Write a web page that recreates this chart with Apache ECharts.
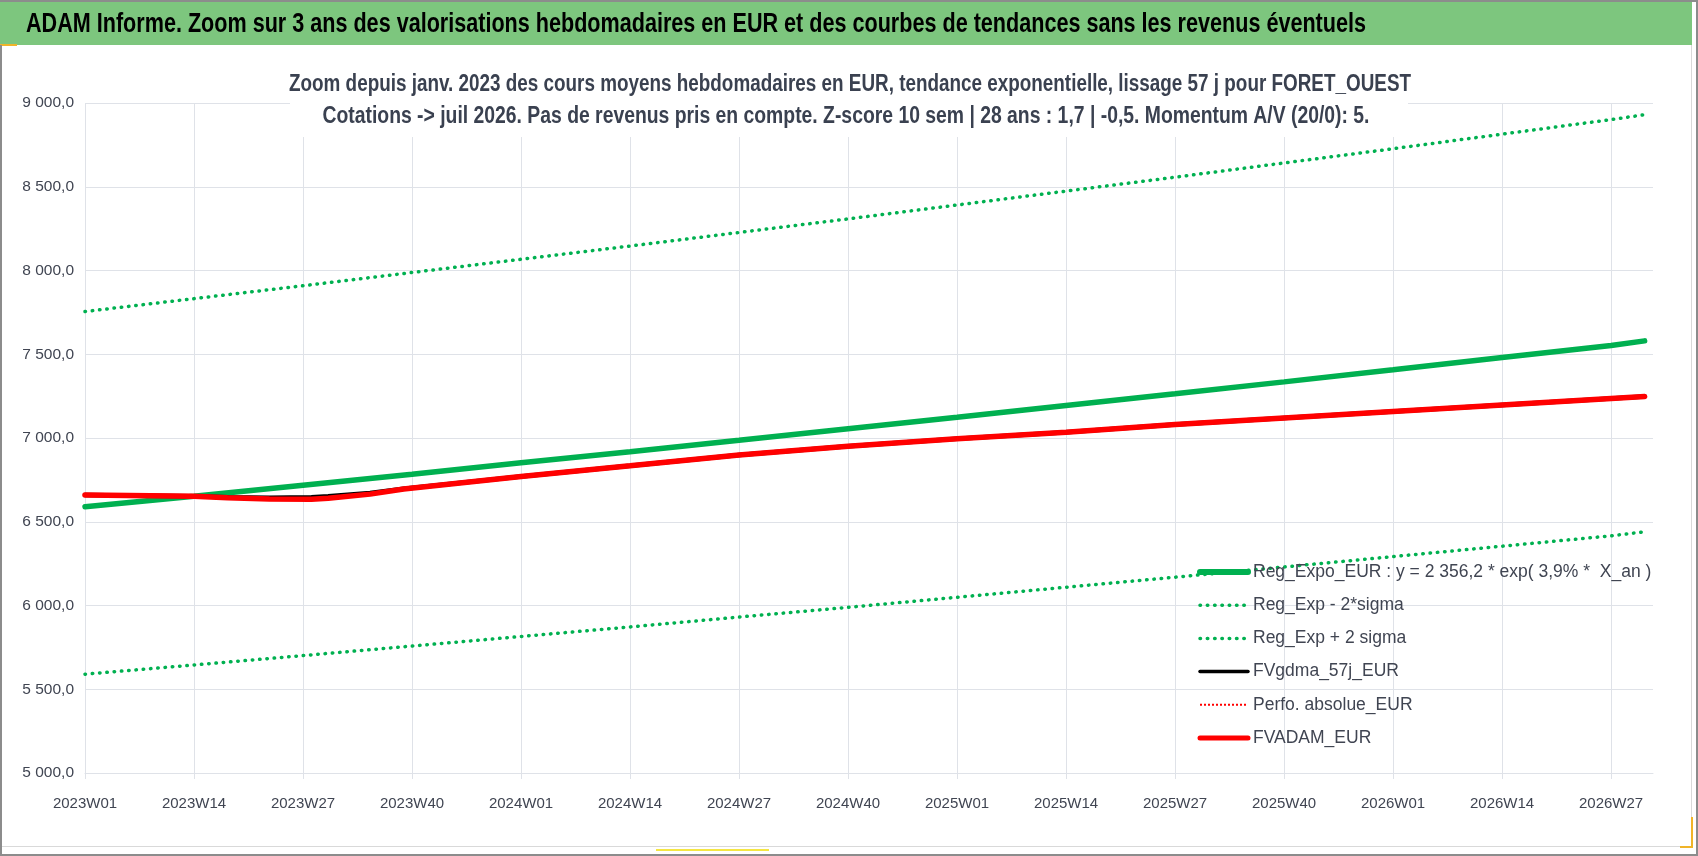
<!DOCTYPE html>
<html>
<head>
<meta charset="utf-8">
<script src="https://cdn.jsdelivr.net/npm/echarts@6/dist/echarts.min.js"></script>
<style>
html,body{margin:0;padding:0;background:#fff;}
#chart{width:1698px;height:856px;}
</style>
</head>
<body>
<div id="chart"></div>
<script>
// ---- categories (ISO weeks) ----
const years = [2023, 2024, 2025, 2026];
const weeksInYear = [52, 52, 52, 32];
const categories = [];
years.forEach(function (y, i) {
  for (let w = 1; w <= weeksInYear[i]; w++) {
    categories.push(y + 'W' + (w < 10 ? '0' + w : w));
  }
});

// ---- trend lines (read at each labelled week + last point) ----
const trendWeeks = ['2023W01','2023W14','2023W27','2023W40','2024W01','2024W14','2024W27','2024W40',
                    '2025W01','2025W14','2025W27','2025W40','2026W01','2026W14','2026W27','2026W31'];
const regExpo   = [6590, 6652, 6718, 6784, 6852, 6918, 6986, 7055, 7124, 7194, 7264, 7335, 7407, 7480, 7552, 7580];
const regMinus2 = [5590, 5645, 5701, 5758, 5815, 5872, 5931, 5989, 6049, 6109, 6169, 6230, 6292, 6354, 6416, 6440];
const regPlus2  = [7755, 7832, 7909, 7988, 8067, 8146, 8227, 8308, 8391, 8474, 8557, 8642, 8727, 8814, 8901, 8930];

// ---- valuation lines ----
const valWeeks = ['2023W01','2023W14','2023W18','2023W23','2023W28','2023W30','2023W35','2023W39',
                  '2024W01','2024W14','2024W27','2024W40','2025W01','2025W14','2025W27','2025W40',
                  '2026W01','2026W14','2026W27','2026W31'];
const fvgdma = [6659, 6652, 6646, 6644, 6646, 6652, 6672, 6697, 6770, 6834, 6899, 6951, 6996, 7035, 7080, 7119, 7158, 7197, 7236, 7248];
const fvadam = [6659, 6652, 6644, 6636, 6634, 6640, 6665, 6695, 6770, 6834, 6899, 6951, 6996, 7035, 7080, 7119, 7158, 7197, 7236, 7248];
const perfoAbs = [];

const yTicks = { min: 5000, max: 9000, interval: 500 };

const seriesNames = ['Reg_Expo_EUR : y = 2 356,2 * exp( 3,9% *  X_an )', 'Reg_Exp - 2*sigma', 'Reg_Exp + 2 sigma',
                     'FVgdma_57j_EUR', 'Perfo. absolue_EUR', 'FVADAM_EUR'];

const mainTitle = 'ADAM Informe. Zoom sur 3 ans des valorisations hebdomadaires en EUR et des courbes de tendances sans les revenus éventuels';
const subLines = ['Zoom depuis janv. 2023 des cours moyens hebdomadaires en EUR, tendance exponentielle, lissage 57 j pour FORET_OUEST',
                  'Cotations -> juil 2026. Pas de revenus pris en compte. Z-score 10 sem | 28 ans : 1,7 | -0,5. Momentum A/V (20/0): 5.'];

function pairs(weeks, vals) { return weeks.map(function (w, i) { return [w, vals[i]]; }); }

const FONT = '"Liberation Sans", Arial, sans-serif';
const GRID = '#dfe2e8';
const TXT = '#404552';
const GREEN = '#00b050';

function fmt(v) {
  const s = v.toFixed(1).split('.');
  return s[0].replace(/\B(?=(\d{3})+(?!\d))/g, ' ') + ',' + s[1];
}

// horizontal compression so the tall, narrow titles keep the reference width
const ctx = document.createElement('canvas').getContext('2d');
function widthOf(text, font) { ctx.font = font; return ctx.measureText(text).width; }
const titleFont = 'bold 27px ' + FONT;
const subFont = 'bold 23px ' + FONT;
const titleScale = 1340 / widthOf(mainTitle, titleFont);
const subScale1 = 1122 / widthOf(subLines[0], subFont);
const subScale2 = 1047 / widthOf(subLines[1], subFont);

const DOT = [0.5, 6.8];

const chart = echarts.init(document.getElementById('chart'));
chart.setOption({
  animation: false,
  backgroundColor: '#ffffff',
  textStyle: { fontFamily: FONT },
  graphic: [
    { type: 'rect', shape: { x: 0, y: 2, width: 1692, height: 43 }, style: { fill: '#7dc67e' }, z: 0 },
    { type: 'rect', shape: { x: 0, y: 0, width: 1698, height: 2 }, style: { fill: '#8c8c8c' } },
    { type: 'text', x: 26, y: 25, scaleX: titleScale,
      style: { text: mainTitle, font: titleFont, fill: '#000000', textVerticalAlign: 'middle' } },
    { type: 'rect', shape: { x: 0, y: 44, width: 17, height: 2 }, style: { fill: '#f0b429' } },
    { type: 'rect', shape: { x: 0, y: 45, width: 2, height: 811 }, style: { fill: '#8c8c8c' } },
    { type: 'rect', shape: { x: 1691, y: 45, width: 1, height: 802 }, style: { fill: '#d9d9d9' } },
    { type: 'rect', shape: { x: 1696, y: 0, width: 2, height: 856 }, style: { fill: '#8c8c8c' } },
    { type: 'rect', shape: { x: 2, y: 846, width: 1690, height: 1 }, style: { fill: '#d9d9d9' } },
    { type: 'rect', shape: { x: 0, y: 854, width: 1698, height: 2 }, style: { fill: '#8c8c8c' } },
    { type: 'rect', shape: { x: 656, y: 849, width: 113, height: 2 }, style: { fill: '#f5e642' } },
    { type: 'rect', shape: { x: 1691, y: 817, width: 2, height: 31 }, style: { fill: '#f0b429' } },
    { type: 'rect', shape: { x: 1680, y: 846, width: 13, height: 2 }, style: { fill: '#f0b429' } },
    // subtitle box (covers the grid, as in the reference)
    { type: 'rect', z: 20, shape: { x: 290, y: 64, width: 1118, height: 73 }, style: { fill: '#ffffff' } },
    { type: 'text', z: 21, x: 850, y: 85, scaleX: subScale1,
      style: { text: subLines[0], font: subFont, fill: '#3a4150', textAlign: 'center', textVerticalAlign: 'middle' } },
    { type: 'text', z: 21, x: 846, y: 117, scaleX: subScale2,
      style: { text: subLines[1], font: subFont, fill: '#3a4150', textAlign: 'center', textVerticalAlign: 'middle' } }
  ],
  grid: { left: 85, right: 45, top: 103, bottom: 83, containLabel: false },
  legend: {
    orient: 'vertical',
    left: 1197,
    top: 561,
    padding: 0,
    itemWidth: 48,
    itemHeight: 14,
    itemGap: 11.2,
    itemStyle: { opacity: 0 },
    data: [
      { name: seriesNames[0], lineStyle: { width: 6, color: GREEN } },
      { name: seriesNames[1], lineStyle: { width: 3.5, color: GREEN, type: DOT, cap: 'round' } },
      { name: seriesNames[2], lineStyle: { width: 3.5, color: GREEN, type: DOT, cap: 'round' } },
      { name: seriesNames[3], lineStyle: { width: 3.5, color: '#000000', cap: 'round' } },
      { name: seriesNames[4], lineStyle: { width: 2, color: '#ff0000', type: [2, 2] } },
      { name: seriesNames[5], lineStyle: { width: 5, color: '#ff0000', cap: 'round' } }
    ],
    textStyle: { fontFamily: FONT, fontSize: 17.5, lineHeight: 22, color: TXT }
  },
  xAxis: {
    type: 'category',
    data: categories,
    boundaryGap: false,
    axisLine: { show: true, lineStyle: { color: GRID, width: 1 } },
    axisTick: { show: true, interval: 12, length: 6, lineStyle: { color: GRID } },
    axisLabel: { interval: 12, margin: 23, fontSize: 15, color: TXT, fontFamily: FONT },
    splitLine: { show: true, interval: 12, lineStyle: { color: GRID, width: 1 } }
  },
  yAxis: {
    type: 'value',
    min: yTicks.min, max: yTicks.max, interval: yTicks.interval,
    axisLine: { show: false },
    axisTick: { show: false },
    axisLabel: { margin: 11, fontSize: 15.5, color: TXT, fontFamily: FONT, formatter: fmt },
    splitLine: { show: true, lineStyle: { color: GRID, width: 1 } }
  },
  series: [
    { name: seriesNames[0], type: 'line', data: pairs(trendWeeks, regExpo), symbol: 'none',
      lineStyle: { color: GREEN, width: 5.5, cap: 'round' }, itemStyle: { color: GREEN } },
    { name: seriesNames[1], type: 'line', data: pairs(trendWeeks, regMinus2), symbol: 'none',
      lineStyle: { color: GREEN, width: 3.5, type: DOT, cap: 'round' }, itemStyle: { color: GREEN } },
    { name: seriesNames[2], type: 'line', data: pairs(trendWeeks, regPlus2), symbol: 'none',
      lineStyle: { color: GREEN, width: 3.5, type: DOT, cap: 'round' }, itemStyle: { color: GREEN } },
    { name: seriesNames[3], type: 'line', data: pairs(valWeeks, fvgdma), symbol: 'none',
      lineStyle: { color: '#000000', width: 4.5, cap: 'round' }, itemStyle: { color: '#000000' } },
    { name: seriesNames[4], type: 'line', data: perfoAbs, symbol: 'none',
      lineStyle: { color: '#ff0000', width: 2, type: [2, 2] }, itemStyle: { color: '#ff0000' } },
    { name: seriesNames[5], type: 'line', data: pairs(valWeeks, fvadam), symbol: 'none',
      lineStyle: { color: '#ff0000', width: 5.5, cap: 'round' }, itemStyle: { color: '#ff0000' } }
  ]
});
</script>
</body>
</html>
